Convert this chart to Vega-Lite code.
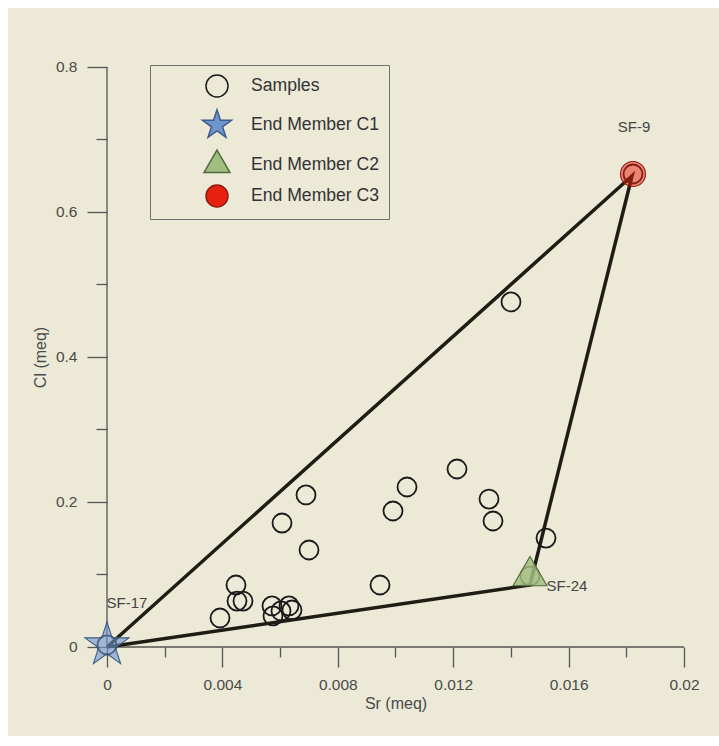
{
  "$schema": "https://vega.github.io/schema/vega-lite/v6.json",
  "width": 711,
  "height": 728,
  "autosize": {"type": "none"},
  "padding": {"left": 8, "top": 8, "right": 0, "bottom": 10},
  "background": "#ffffff",
  "config": {
    "view": {"fill": "#ece9d7", "stroke": null},
    "font": "Liberation Sans"
  },
  "layer": [
    {
      "data": {"values": [{}]},
      "mark": {"type": "rule", "color": "#555555", "strokeWidth": 1.3},
      "encoding": {
        "x": {"datum": 0, "type": "quantitative", "scale": {"domain": [-0.0034315, 0.0212132], "nice": false, "zero": false}},
        "x2": {"datum": 0.02},
        "y": {"datum": 0, "type": "quantitative", "scale": {"domain": [-0.122759, 0.881379], "nice": false, "zero": false}}
      }
    },
    {
      "data": {"values": [{}]},
      "mark": {"type": "rule", "color": "#555555", "strokeWidth": 1.3},
      "encoding": {
        "x": {"datum": 0, "type": "quantitative", "scale": {"domain": [-0.0034315, 0.0212132], "nice": false, "zero": false}},
        "y": {"datum": 0, "type": "quantitative", "scale": {"domain": [-0.122759, 0.881379], "nice": false, "zero": false}},
        "y2": {"datum": 0.8}
      }
    },
    {
      "data": {"values": [
        {"Sr": 0, "Cl": 0, "ord": 1},
        {"Sr": 0.0182, "Cl": 0.650, "ord": 2},
        {"Sr": 0.01466, "Cl": 0.0855, "ord": 3},
        {"Sr": 0, "Cl": 0, "ord": 4}
      ]},
      "mark": {"type": "line", "color": "#1f1c14", "strokeWidth": 3.5},
      "encoding": {
        "x": {"field": "Sr", "type": "quantitative", "scale": {"domain": [-0.0034315, 0.0212132], "nice": false, "zero": false}},
        "y": {"field": "Cl", "type": "quantitative", "scale": {"domain": [-0.122759, 0.881379], "nice": false, "zero": false}},
        "order": {"field": "ord", "type": "quantitative"}
      }
    },
    {
      "data": {"values": [
        {"Sr": 0.014003, "Cl": 0.4759, "type": "Samples"},
        {"Sr": 0.012132, "Cl": 0.2455, "type": "Samples"},
        {"Sr": 0.010399, "Cl": 0.2207, "type": "Samples"},
        {"Sr": 0.009913, "Cl": 0.1876, "type": "Samples"},
        {"Sr": 0.013241, "Cl": 0.2041, "type": "Samples"},
        {"Sr": 0.013380, "Cl": 0.1738, "type": "Samples"},
        {"Sr": 0.015217, "Cl": 0.1503, "type": "Samples"},
        {"Sr": 0.006898, "Cl": 0.2097, "type": "Samples"},
        {"Sr": 0.006066, "Cl": 0.1710, "type": "Samples"},
        {"Sr": 0.007002, "Cl": 0.1338, "type": "Samples"},
        {"Sr": 0.009463, "Cl": 0.0855, "type": "Samples"},
        {"Sr": 0.004471, "Cl": 0.0855, "type": "Samples"},
        {"Sr": 0.004506, "Cl": 0.0634, "type": "Samples"},
        {"Sr": 0.004714, "Cl": 0.0634, "type": "Samples"},
        {"Sr": 0.003917, "Cl": 0.0400, "type": "Samples"},
        {"Sr": 0.005719, "Cl": 0.0566, "type": "Samples"},
        {"Sr": 0.005754, "Cl": 0.0428, "type": "Samples"},
        {"Sr": 0.006031, "Cl": 0.0497, "type": "Samples"},
        {"Sr": 0.006308, "Cl": 0.0566, "type": "Samples"},
        {"Sr": 0.006412, "Cl": 0.0510, "type": "Samples"},
        {"Sr": 0.014662, "Cl": 0.0979, "type": "Samples"},
        {"Sr": 0.018232, "Cl": 0.6524, "type": "Samples"},
        {"Sr": 0.0, "Cl": 0.0028, "type": "Samples"},
        {"Sr": 0.0, "Cl": 0.0028, "type": "End Member C1"},
        {"Sr": 0.014662, "Cl": 0.0979, "type": "End Member C2"},
        {"Sr": 0.018232, "Cl": 0.6524, "type": "End Member C3"}
      ]},
      "mark": {"type": "point", "filled": true, "opacity": 1},
      "encoding": {
        "x": {
          "field": "Sr", "type": "quantitative",
          "scale": {"domain": [-0.0034315, 0.0212132], "nice": false, "zero": false},
          "axis": {
            "orient": "bottom",
            "offset": -89,
            "values": [0, 0.002, 0.004, 0.006, 0.008, 0.01, 0.012, 0.014, 0.016, 0.018, 0.02],
            "format": "~g",
            "labelExpr": "round(datum.value*1000) % 4 == 0 ? datum.label : ''",
            "tickSize": {"condition": {"test": "round(datum.value*1000) % 4 == 0", "value": 20}, "value": 10},
            "tickColor": "#555555",
            "tickWidth": 1.3,
            "domain": false,
            "grid": false,
            "labelFlush": false,
            "labelOverlap": false,
            "labelBound": false,
            "labelFontSize": 15.5,
            "labelColor": "#4a4a4a",
            "labelPadding": 10,
            "title": "Sr (meq)",
            "titleFontSize": 16,
            "titleFontWeight": "normal",
            "titleColor": "#4a4a4a",
            "titleX": 387.5,
            "titleY": 48,
            "titleBaseline": "top"
          }
        },
        "y": {
          "field": "Cl", "type": "quantitative",
          "scale": {"domain": [-0.122759, 0.881379], "nice": false, "zero": false},
          "axis": {
            "orient": "left",
            "offset": -99,
            "values": [0, 0.1, 0.2, 0.3, 0.4, 0.5, 0.6, 0.7, 0.8],
            "format": "~g",
            "labelExpr": "round(datum.value*10) % 2 == 0 ? datum.label : ''",
            "tickSize": {"condition": {"test": "round(datum.value*10) % 2 == 0", "value": 20}, "value": 11},
            "tickColor": "#555555",
            "tickWidth": 1.3,
            "domain": false,
            "grid": false,
            "labelFlush": false,
            "labelOverlap": false,
            "labelBound": false,
            "labelFontSize": 15.5,
            "labelColor": "#4a4a4a",
            "labelPadding": 10,
            "title": "Cl (meq)",
            "titleFontSize": 16,
            "titleFontWeight": "normal",
            "titleColor": "#4a4a4a",
            "titleX": -59,
            "titleY": 349
          }
        },
        "shape": {
          "field": "type", "type": "nominal",
          "scale": {
            "domain": ["Samples", "End Member C1", "End Member C2", "End Member C3"],
            "range": ["circle", "M0,-1.386L0.311,-0.428L1.318,-0.428L0.503,0.164L0.815,1.121L0,0.529L-0.815,1.121L-0.503,0.164L-1.318,-0.428L-0.311,-0.428Z", "M0,-1.36L1.18,0.68L-1.18,0.68Z", "circle"]
          },
          "legend": {"title": null}
        },
        "fill": {
          "field": "type", "type": "nominal",
          "scale": {
            "domain": ["Samples", "End Member C1", "End Member C2", "End Member C3"],
            "range": ["transparent", "#6f95cf", "#a2bd80", "#e8200f"]
          },
          "legend": {
            "title": null,
            "orient": "none",
            "legendX": 142,
            "legendY": 57,
            "direction": "vertical",
            "padding": 9,
            "strokeColor": "#707070",
            "symbolSize": 484,
            "symbolStrokeWidth": 1.5,
            "symbolOffset": 46,
            "labelOffset": 22,
            "rowPadding": 6,
            "labelFontSize": 17.6,
            "labelColor": "#333333",
            "labelFont": "Liberation Sans"
          }
        },
        "stroke": {
          "field": "type", "type": "nominal",
          "scale": {
            "domain": ["Samples", "End Member C1", "End Member C2", "End Member C3"],
            "range": ["#1a1a1a", "#3e5d86", "#4e6b3c", "#901c10"]
          },
          "legend": {"title": null}
        },
        "size": {
          "field": "type", "type": "nominal",
          "scale": {"type": "ordinal", "domain": ["End Member C1", "End Member C2", "End Member C3", "Samples"], "range": [1114, 830, 625, 361]},
          "legend": null
        },
        "fillOpacity": {
          "field": "type", "type": "nominal",
          "scale": {"type": "ordinal", "domain": ["End Member C2", "End Member C3", "Samples", "End Member C1"], "range": [0.85, 0.5, 0, 0.6]},
          "legend": null
        },
        "strokeWidth": {
          "field": "type", "type": "nominal",
          "scale": {"type": "ordinal", "domain": ["End Member C3", "Samples", "End Member C1", "End Member C2"], "range": [1.1, 1.8, 1.1, 1.1]},
          "legend": null
        }
      }
    },
    {
      "data": {"values": [
        {"lab": "SF-9", "lx": 0.018267, "ly": 0.7172},
        {"lab": "SF-17", "lx": 0.000693, "ly": 0.0607},
        {"lab": "SF-24", "lx": 0.015945, "ly": 0.0841}
      ]},
      "mark": {"type": "text", "fontSize": 15, "color": "#444444", "align": "center", "baseline": "middle", "font": "Liberation Sans"},
      "encoding": {
        "x": {"field": "lx", "type": "quantitative", "scale": {"domain": [-0.0034315, 0.0212132], "nice": false, "zero": false}},
        "y": {"field": "ly", "type": "quantitative", "scale": {"domain": [-0.122759, 0.881379], "nice": false, "zero": false}},
        "text": {"field": "lab", "type": "nominal"}
      }
    }
  ]
}
